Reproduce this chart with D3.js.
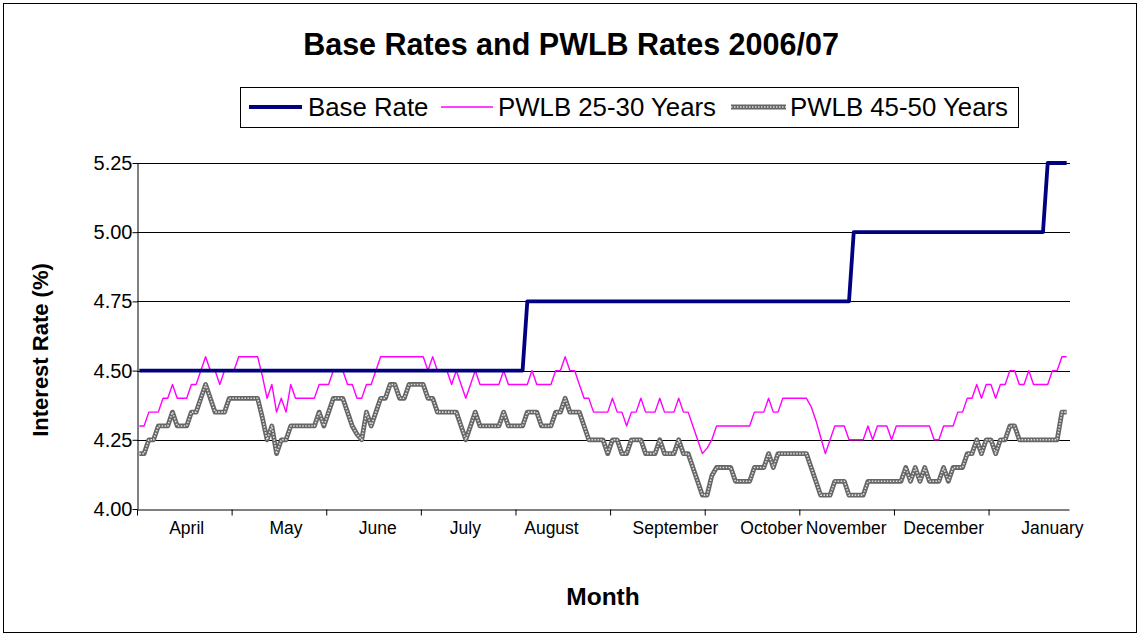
<!DOCTYPE html>
<html>
<head>
<meta charset="utf-8">
<script src="https://cdn.jsdelivr.net/npm/d3@7"></script>
<style>
  html, body { margin: 0; padding: 0; background: #fff; }
  svg { display: block; font-family: "Liberation Sans", Arial, sans-serif; }
</style>
</head>
<body>
<svg id="chart" width="1141" height="637"></svg>
<script>
// ---------------- DATA ----------------
const chartTitle = "Base Rates and PWLB Rates 2006/07";
const seriesNames = ["Base Rate", "PWLB 25-30 Years", "PWLB 45-50 Years"];

// daily observations (business days), April 2006 – January 2007
const baseRate = [
  4.50,4.50,4.50,4.50,4.50,4.50,4.50,4.50,4.50,4.50,
  4.50,4.50,4.50,4.50,4.50,4.50,4.50,4.50,4.50,4.50,
  4.50,4.50,4.50,4.50,4.50,4.50,4.50,4.50,4.50,4.50,
  4.50,4.50,4.50,4.50,4.50,4.50,4.50,4.50,4.50,4.50,
  4.50,4.50,4.50,4.50,4.50,4.50,4.50,4.50,4.50,4.50,
  4.50,4.50,4.50,4.50,4.50,4.50,4.50,4.50,4.50,4.50,
  4.50,4.50,4.50,4.50,4.50,4.50,4.50,4.50,4.50,4.50,
  4.50,4.50,4.50,4.50,4.50,4.50,4.50,4.50,4.50,4.50,
  4.50,4.50,4.75,4.75,4.75,4.75,4.75,4.75,4.75,4.75,
  4.75,4.75,4.75,4.75,4.75,4.75,4.75,4.75,4.75,4.75,
  4.75,4.75,4.75,4.75,4.75,4.75,4.75,4.75,4.75,4.75,
  4.75,4.75,4.75,4.75,4.75,4.75,4.75,4.75,4.75,4.75,
  4.75,4.75,4.75,4.75,4.75,4.75,4.75,4.75,4.75,4.75,
  4.75,4.75,4.75,4.75,4.75,4.75,4.75,4.75,4.75,4.75,
  4.75,4.75,4.75,4.75,4.75,4.75,4.75,4.75,4.75,4.75,
  4.75,5.00,5.00,5.00,5.00,5.00,5.00,5.00,5.00,5.00,
  5.00,5.00,5.00,5.00,5.00,5.00,5.00,5.00,5.00,5.00,
  5.00,5.00,5.00,5.00,5.00,5.00,5.00,5.00,5.00,5.00,
  5.00,5.00,5.00,5.00,5.00,5.00,5.00,5.00,5.00,5.00,
  5.00,5.00,5.25,5.25,5.25,5.25,5.25
];

const pwlb2530 = [
  4.30,4.30,4.35,4.35,4.35,4.40,4.40,4.45,4.40,4.40,
  4.40,4.45,4.45,4.50,4.55,4.50,4.50,4.45,4.50,4.50,
  4.50,4.55,4.55,4.55,4.55,4.55,4.48,4.40,4.45,4.35,
  4.40,4.35,4.45,4.40,4.40,4.40,4.40,4.40,4.45,4.45,
  4.45,4.50,4.50,4.50,4.45,4.45,4.40,4.40,4.45,4.45,
  4.50,4.55,4.55,4.55,4.55,4.55,4.55,4.55,4.55,4.55,
  4.55,4.50,4.55,4.50,4.50,4.50,4.45,4.50,4.45,4.40,
  4.45,4.50,4.45,4.45,4.45,4.45,4.45,4.50,4.45,4.45,
  4.45,4.45,4.45,4.50,4.45,4.45,4.45,4.45,4.50,4.50,
  4.55,4.50,4.50,4.45,4.40,4.40,4.35,4.35,4.35,4.35,
  4.40,4.35,4.35,4.30,4.35,4.35,4.40,4.35,4.35,4.35,
  4.40,4.35,4.35,4.35,4.40,4.35,4.35,4.30,4.25,4.20,
  4.22,4.25,4.30,4.30,4.30,4.30,4.30,4.30,4.30,4.30,
  4.35,4.35,4.35,4.40,4.35,4.35,4.40,4.40,4.40,4.40,
  4.40,4.40,4.37,4.32,4.26,4.20,4.25,4.30,4.30,4.30,
  4.25,4.25,4.25,4.25,4.30,4.25,4.30,4.30,4.30,4.25,
  4.30,4.30,4.30,4.30,4.30,4.30,4.30,4.30,4.25,4.25,
  4.30,4.30,4.30,4.35,4.35,4.40,4.40,4.45,4.40,4.45,
  4.45,4.40,4.45,4.45,4.50,4.50,4.45,4.45,4.50,4.45,
  4.45,4.45,4.45,4.50,4.50,4.55,4.55
];

const pwlb4550 = [
  4.20,4.20,4.25,4.25,4.30,4.30,4.30,4.35,4.30,4.30,
  4.30,4.35,4.35,4.40,4.45,4.40,4.35,4.35,4.35,4.40,
  4.40,4.40,4.40,4.40,4.40,4.40,4.33,4.25,4.30,4.20,
  4.25,4.25,4.30,4.30,4.30,4.30,4.30,4.30,4.35,4.30,
  4.35,4.40,4.40,4.40,4.35,4.30,4.27,4.25,4.35,4.30,
  4.35,4.40,4.40,4.45,4.45,4.40,4.40,4.45,4.45,4.45,
  4.45,4.40,4.40,4.35,4.35,4.35,4.35,4.35,4.30,4.25,
  4.30,4.35,4.30,4.30,4.30,4.30,4.30,4.35,4.30,4.30,
  4.30,4.30,4.35,4.35,4.35,4.30,4.30,4.30,4.35,4.35,
  4.40,4.35,4.35,4.35,4.30,4.25,4.25,4.25,4.25,4.20,
  4.25,4.25,4.20,4.20,4.25,4.25,4.25,4.20,4.20,4.20,
  4.25,4.20,4.20,4.20,4.25,4.20,4.20,4.15,4.10,4.05,
  4.05,4.12,4.15,4.15,4.15,4.15,4.10,4.10,4.10,4.10,
  4.15,4.15,4.15,4.20,4.15,4.20,4.20,4.20,4.20,4.20,
  4.20,4.20,4.15,4.10,4.05,4.05,4.05,4.10,4.10,4.10,
  4.05,4.05,4.05,4.05,4.10,4.10,4.10,4.10,4.10,4.10,
  4.10,4.10,4.15,4.10,4.15,4.10,4.15,4.10,4.10,4.10,
  4.15,4.10,4.15,4.15,4.15,4.20,4.20,4.25,4.20,4.25,
  4.25,4.20,4.25,4.25,4.30,4.30,4.25,4.25,4.25,4.25,
  4.25,4.25,4.25,4.25,4.25,4.35,4.35
];

const yTickValues = [4.00, 4.25, 4.50, 4.75, 5.00, 5.25];
const xTickEvery = 20; // tick mark every 20 observations
const monthNames = ["April","May","June","July","August","September","October","November","December","January"];
const monthLabelAt = [10.4, 31.4, 50.8, 69.3, 87.5, 113.7, 134.0, 149.8, 170.4, 193.4];
const yTitle = "Interest Rate (%)";
const xTitle = "Month";

// ---------------- LAYOUT ----------------
const svg = d3.select("#chart");
const W = 1141, H = 637;
const plot = { left: 137, right: 1069, top: 163, bottom: 509 };
const n = baseRate.length;

svg.append("rect").attr("width", W).attr("height", H).attr("fill", "#fff");
svg.append("rect")
  .attr("x", 3.5).attr("y", 3.5).attr("width", 1133).attr("height", 629)
  .attr("fill", "none").attr("stroke", "#000").attr("stroke-width", 1);

const x = d3.scaleLinear().domain([0, n]).range([plot.left, plot.right]);
const y = d3.scaleLinear().domain([4.0, 5.25]).range([plot.bottom, plot.top]);

// gridlines
svg.append("g")
  .selectAll("line")
  .data(yTickValues.filter(v => v > 4.0))
  .join("line")
  .attr("x1", plot.left).attr("x2", plot.right + 1)
  .attr("y1", d => Math.round(y(d)) + 0.5).attr("y2", d => Math.round(y(d)) + 0.5)
  .attr("stroke", "#000").attr("stroke-width", 1);

// y axis
const yAxis = svg.append("g")
  .attr("transform", `translate(${plot.left + 0.5},0)`)
  .call(d3.axisLeft(y).tickValues(yTickValues).tickFormat(d3.format(".2f")).tickSize(5).tickSizeOuter(0));
yAxis.select(".domain").attr("stroke", "#000");
yAxis.selectAll(".tick line").attr("stroke", "#000");
yAxis.selectAll(".tick text")
  .attr("font-size", 20).attr("fill", "#000").attr("x", -5)
  .attr("font-family", "Liberation Sans, Arial, sans-serif");

// x axis (tick marks)
const xTicks = d3.range(0, n, xTickEvery);
const xAxis = svg.append("g")
  .attr("transform", `translate(0,${plot.bottom + 0.5})`)
  .call(d3.axisBottom(x).tickValues(xTicks).tickFormat("").tickSize(6).tickSizeOuter(0));
xAxis.select(".domain").attr("stroke", "#000");
xAxis.selectAll(".tick line").attr("stroke", "#000");

// month labels
const monthAxis = svg.append("g")
  .attr("transform", `translate(0,${plot.bottom})`)
  .call(d3.axisBottom(x).tickValues(monthLabelAt).tickFormat((d, i) => monthNames[i]).tickSize(0));
monthAxis.select(".domain").remove();
monthAxis.selectAll(".tick text")
  .attr("font-size", 17.5).attr("fill", "#000").attr("dy", 0).attr("y", 25)
  .attr("font-family", "Liberation Sans, Arial, sans-serif");

// lines
const line = d3.line().x((d, i) => x(i + 0.5)).y(d => y(d));

svg.append("path").datum(pwlb4550)
  .attr("d", line).attr("fill", "none")
  .attr("stroke", "#666").attr("stroke-width", 4.8).attr("stroke-linejoin", "round");
svg.append("path").datum(pwlb4550)
  .attr("d", line).attr("fill", "none")
  .attr("stroke", "#e0e0e0").attr("stroke-width", 1.6)
  .attr("stroke-dasharray", "1.5,1.5").attr("stroke-linejoin", "round");

svg.append("path").datum(pwlb2530)
  .attr("d", line).attr("fill", "none")
  .attr("stroke", "#ff00ff").attr("stroke-width", 1.4).attr("stroke-linejoin", "round");

svg.append("path").datum(baseRate)
  .attr("d", line).attr("fill", "none")
  .attr("stroke", "#000080").attr("stroke-width", 3.8).attr("stroke-linejoin", "round");

// title
svg.append("text")
  .attr("x", 571).attr("y", 55).attr("text-anchor", "middle")
  .attr("font-size", 30.5).attr("font-weight", "bold").text(chartTitle);

// axis titles
svg.append("text")
  .attr("transform", "translate(48,350) rotate(-90)")
  .attr("text-anchor", "middle").attr("font-size", 22).attr("font-weight", "bold")
  .text(yTitle);
svg.append("text")
  .attr("x", 603).attr("y", 605).attr("text-anchor", "middle")
  .attr("font-size", 24.5).attr("font-weight", "bold").text(xTitle);

// legend
const legend = svg.append("g");
legend.append("rect")
  .attr("x", 240.5).attr("y", 87.5).attr("width", 778).attr("height", 40)
  .attr("fill", "#fff").attr("stroke", "#000").attr("stroke-width", 1);
const legendItems = [
  { name: seriesNames[0], x1: 249, x2: 302, tx: 308 },
  { name: seriesNames[1], x1: 441, x2: 493, tx: 498 },
  { name: seriesNames[2], x1: 731, x2: 786, tx: 790 }
];
const ly = 107;
legend.append("line").attr("x1", legendItems[0].x1).attr("x2", legendItems[0].x2)
  .attr("y1", ly).attr("y2", ly).attr("stroke", "#000080").attr("stroke-width", 3.8);
legend.append("line").attr("x1", legendItems[1].x1).attr("x2", legendItems[1].x2)
  .attr("y1", ly).attr("y2", ly).attr("stroke", "#ff00ff").attr("stroke-width", 1.4);
legend.append("line").attr("x1", legendItems[2].x1).attr("x2", legendItems[2].x2)
  .attr("y1", ly).attr("y2", ly).attr("stroke", "#666").attr("stroke-width", 4.8);
legend.append("line").attr("x1", legendItems[2].x1).attr("x2", legendItems[2].x2)
  .attr("y1", ly).attr("y2", ly).attr("stroke", "#e0e0e0").attr("stroke-width", 1.6)
  .attr("stroke-dasharray", "1.5,1.5");
legend.selectAll("text.leg").data(legendItems).join("text")
  .attr("class", "leg")
  .attr("x", d => d.tx).attr("y", 116).attr("font-size", 25.8)
  .text(d => d.name);
</script>
</body>
</html>
